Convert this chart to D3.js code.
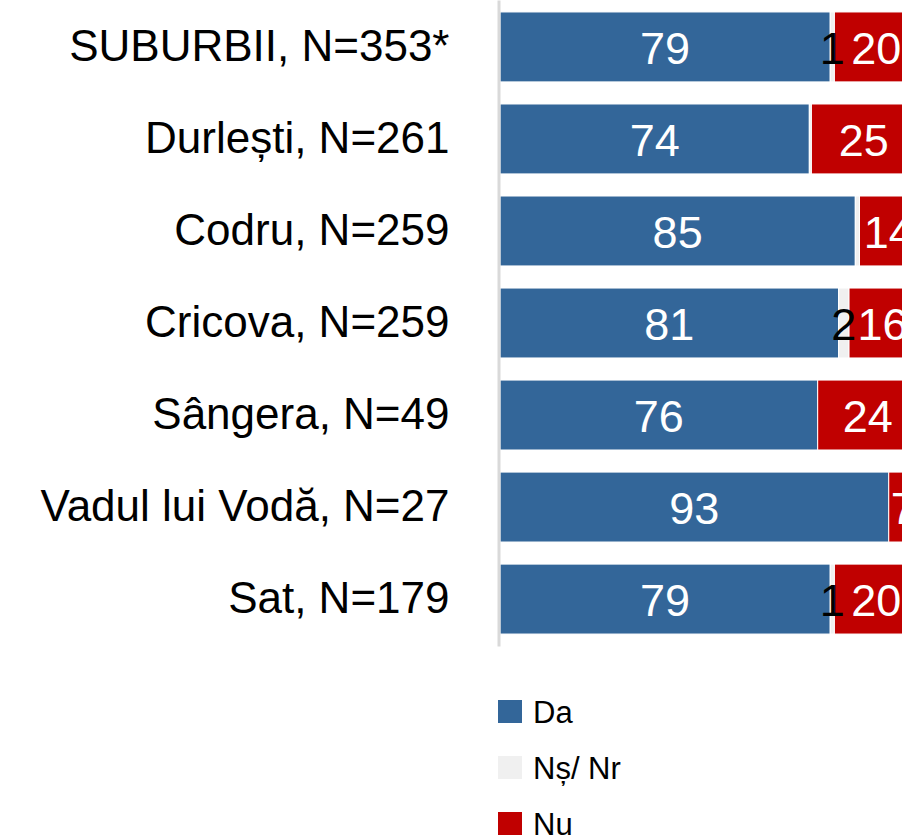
<!DOCTYPE html>
<html>
<head>
<meta charset="utf-8">
<script src="https://cdn.jsdelivr.net/npm/d3@7"></script>
<style>
  body { margin: 0; background: #fff; }
  svg { display: block; font-family: "Liberation Sans", Arial, sans-serif; }
</style>
</head>
<body>
<div id="chart"></div>
<script>
var categories = ["SUBURBII, N=353*", "Durlești, N=261", "Codru, N=259", "Cricova, N=259",
                  "Sângera, N=49", "Vadul lui Vodă, N=27", "Sat, N=179"];
var da = [79, 74, 85, 81, 76, 93, 79];
var ns = [1, 0.5, 1, 2.5, 0, 0, 1];
var nu = [20, 25, 14, 16, 24, 7, 20];
var nsLabels = ["1", "", "", "2", "", "", "1"]; // only these were printed on the chart
var seriesNames = ["Da", "Nș/ Nr", "Nu"];
var colors = ["#336699", "#f0f0f0", "#c00000"];

function init()
{
    var w = 902;
    var h = 835;
    var left = 500;

    var svg = d3.select("#chart")
                .append("svg")
                .attr("width", w)
                .attr("height", h);

    // 100% runs past the right edge, bars get cut like in the original
    var xScale = d3.scaleLinear()
                .domain([0, 100])
                .range([left, 918]);

    var yScale = d3.scaleBand()
                .domain(categories)
                .range([0, 646])
                .paddingInner(0.24)
                .paddingOuter(0.13);

    // build rows of stacked segments
    var rows = categories.map(function(c, i){
        var vals = [da[i], ns[i], nu[i]];
        var start = 0;
        return vals.map(function(v, k){
            var seg = {cat: c, k: k, x0: start, x1: start + v, v: v,
                       label: k === 1 ? nsLabels[i] : String(v)};
            start += v;
            return seg;
        });
    });
    var segs = d3.merge(rows);

    svg.selectAll("rect.seg")
        .data(segs)
        .enter()
        .append("rect")
        .attr("class", "seg")
        .attr("x", function(d){ return xScale(d.x0); })
        .attr("y", function(d){ return yScale(d.cat); })
        .attr("width", function(d){ return Math.max(0, xScale(d.x1) - xScale(d.x0)); })
        .attr("height", yScale.bandwidth())
        .attr("fill", function(d){ return colors[d.k]; })
        .attr("stroke", "#fff")
        .attr("stroke-width", function(d){ return d.v > 0 ? 1 : 0; });

    // value labels
    svg.selectAll("text.val")
        .data(segs.filter(function(d){ return d.v > 0 && d.label !== ""; }))
        .enter()
        .append("text")
        .attr("class", "val")
        .attr("x", function(d){ return xScale((d.x0 + d.x1) / 2); })
        .attr("y", function(d){ return yScale(d.cat) + yScale.bandwidth() / 2; })
        .attr("dy", "0.37em")
        .attr("text-anchor", "middle")
        .attr("font-size", 45)
        .attr("fill", function(d){ return d.k === 1 ? "#000" : "#fff"; })
        .text(function(d){ return d.label; });

    // category axis
    var yAxis = d3.axisLeft(yScale).tickSize(0).tickPadding(49);
    var gAxis = svg.append("g")
        .attr("transform", "translate(" + (left - 1.5) + ",0)")
        .call(yAxis);
    gAxis.select(".domain")
        .attr("stroke", "#d9d9d9")
        .attr("stroke-width", 3);
    gAxis.selectAll("text")
        .attr("font-size", 44)
        .attr("font-family", "'Liberation Sans', Arial, sans-serif")
        .attr("fill", "#000")
        .attr("dy", "0.32em");

    // legend
    var legend = svg.selectAll("g.leg")
        .data(seriesNames)
        .enter()
        .append("g")
        .attr("class", "leg")
        .attr("transform", function(d, i){ return "translate(498," + (700 + i * 56) + ")"; });
    legend.append("rect")
        .attr("width", 24)
        .attr("height", 23)
        .attr("fill", function(d, i){ return colors[i]; });
    legend.append("text")
        .attr("x", 35)
        .attr("y", 11.5)
        .attr("dy", "0.36em")
        .attr("font-size", 31)
        .attr("fill", "#000")
        .text(function(d){ return d; });
}
window.onload = init;
</script>
</body>
</html>
